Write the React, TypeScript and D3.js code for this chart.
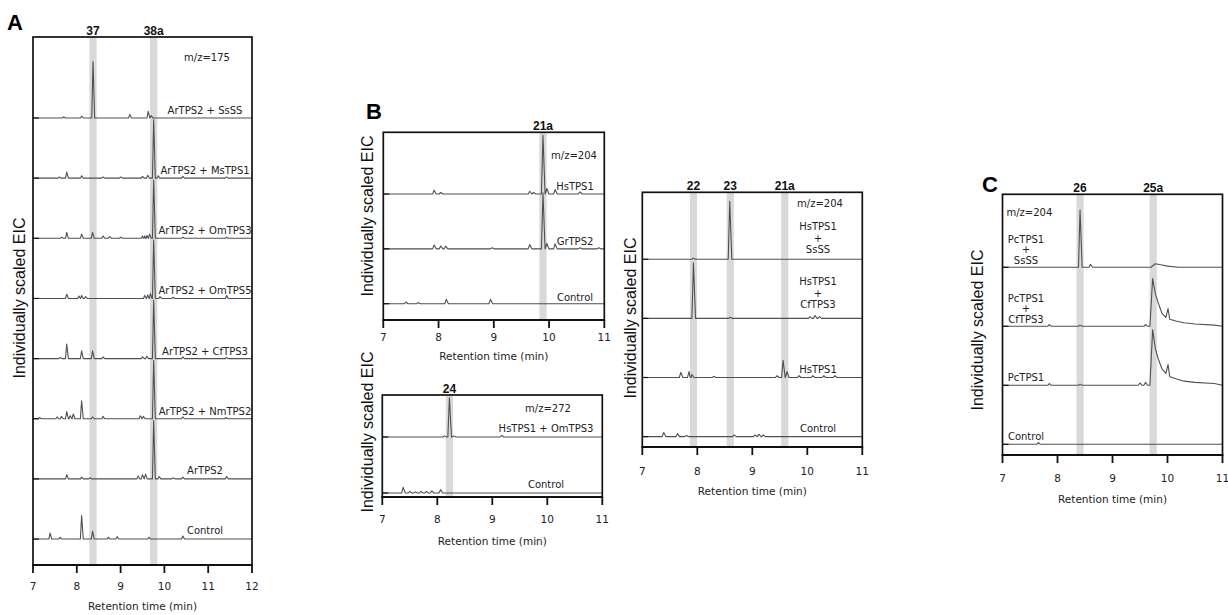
import React from "react";
import * as d3 from "d3";

type Pt = [number, number];

// ---------- panel A (m/z=175) ----------
const aTicks = [7, 8, 9, 10, 11, 12];
const aBandNames = ["37", "38a"];
const aBandTimes = [8.37, 9.755];
const aLabels = [
  "ArTPS2 + SsSS",
  "ArTPS2 + MsTPS1",
  "ArTPS2 + OmTPS3",
  "ArTPS2 + OmTPS5",
  "ArTPS2 + CfTPS3",
  "ArTPS2 + NmTPS2",
  "ArTPS2",
  "Control",
];
const aPeaks: Pt[][] = [
  [[7.7, 0.02], [8.11, 0.03], [8.37, 0.94], [9.21, 0.06], [9.63, 0.11], [9.7, 0.04]],
  [[7.6, 0.02], [7.77, 0.1], [8.11, 0.04], [8.6, 0.02], [9.0, 0.02], [9.5, 0.03], [9.62, 0.05], [9.755, 0.97], [9.86, 0.04], [10.42, 0.03], [11.42, 0.02]],
  [[7.65, 0.02], [7.77, 0.1], [8.11, 0.07], [8.36, 0.1], [8.6, 0.04], [8.75, 0.03], [9.0, 0.02], [9.5, 0.04], [9.55, 0.04], [9.6, 0.05], [9.66, 0.07], [9.755, 0.97], [10.42, 0.02], [11.42, 0.02]],
  [[7.77, 0.07], [8.05, 0.04], [8.11, 0.05], [8.2, 0.03], [9.55, 0.05], [9.62, 0.06], [9.68, 0.08], [9.755, 0.97], [9.9, 0.03], [10.2, 0.02], [11.42, 0.05]],
  [[7.62, 0.02], [7.77, 0.24], [8.11, 0.13], [8.36, 0.13], [8.6, 0.03], [9.5, 0.03], [9.6, 0.04], [9.755, 0.97], [10.42, 0.03], [11.42, 0.02]],
  [[7.15, 0.02], [7.55, 0.03], [7.65, 0.04], [7.77, 0.12], [7.85, 0.05], [7.92, 0.08], [8.11, 0.3], [8.36, 0.03], [8.6, 0.04], [9.45, 0.05], [9.52, 0.04], [9.755, 0.97], [10.42, 0.03], [11.4, 0.02]],
  [[7.77, 0.07], [8.11, 0.03], [8.3, 0.02], [9.4, 0.05], [9.5, 0.07], [9.57, 0.08], [9.755, 0.97], [9.88, 0.04], [10.2, 0.02], [10.42, 0.03], [11.42, 0.04]],
  [[7.39, 0.1], [7.62, 0.03], [8.11, 0.39], [8.36, 0.13], [8.72, 0.03], [8.92, 0.04], [9.65, 0.03], [10.42, 0.05]],
];

// ---------- panel B, upper left (m/z=204) ----------
const bTicks = [7, 8, 9, 10, 11];
const b1BandNames = ["21a"];
const b1BandTimes = [9.89];
const b1Labels = ["HsTPS1", "GrTPS2", "Control"];
const b1Peaks: Pt[][] = [
  [[7.92, 0.07], [8.04, 0.03], [9.65, 0.05], [9.72, 0.03], [9.89, 1.07], [9.96, 0.1], [10.11, 0.08], [10.56, 0.04]],
  [[7.92, 0.07], [8.04, 0.05], [8.13, 0.05], [8.97, 0.02], [9.65, 0.08], [9.89, 1.02], [9.96, 0.1], [10.11, 0.09], [10.56, 0.02], [10.9, 0.02]],
  [[7.41, 0.03], [7.63, 0.02], [8.14, 0.08], [8.94, 0.08]],
];

// ---------- panel B, lower left (m/z=272) ----------
const b2BandNames = ["24"];
const b2BandTimes = [8.22];
const b2Labels = ["HsTPS1 + OmTPS3", "Control"];
const b2Peaks: Pt[][] = [
  [[8.13, 0.02], [8.22, 0.7], [8.3, 0.02], [9.17, 0.03]],
  [[7.38, 0.1], [7.5, 0.03], [7.6, 0.02], [7.7, 0.03], [7.8, 0.03], [7.9, 0.04], [8.06, 0.06]],
];

// ---------- panel B, right (m/z=204) ----------
const b3BandNames = ["22", "23", "21a"];
const b3BandTimes = [7.93, 8.6, 9.59];
const b3Labels = ["HsTPS1\n+\nSsSS", "HsTPS1\n+\nCfTPS3", "HsTPS1", "Control"];
const b3Peaks: Pt[][] = [
  [[7.93, 0.02], [8.59, 0.98]],
  [[7.93, 0.94], [8.6, 0.02], [10.05, 0.03], [10.14, 0.05], [10.22, 0.03]],
  [[7.7, 0.085], [7.85, 0.1], [7.9, 0.05], [8.3, 0.02], [9.45, 0.03], [9.56, 0.29], [9.63, 0.1], [9.85, 0.03], [10.1, 0.03], [10.3, 0.03], [10.5, 0.03]],
  [[7.39, 0.07], [7.64, 0.05], [7.8, 0.02], [8.67, 0.03], [9.05, 0.03], [9.12, 0.04], [9.2, 0.03]],
];

// ---------- panel C (m/z=204) ----------
const cBandNames = ["26", "25a"];
const cBandTimes = [8.41, 9.74];
const cLabels = ["PcTPS1\n+\nSsSS", "PcTPS1\n+\nCfTPS3", "PcTPS1", "Control"];
const cPeaks: Pt[][] = [
  [[8.41, 0.97], [8.6, 0.05]],
  [[7.85, 0.03], [8.41, 0.02], [9.6, 0.03]],
  [[7.85, 0.03], [8.41, 0.02], [9.5, 0.04], [9.6, 0.05]],
  [[7.65, 0.03]],
];
const cProfiles: (Pt[] | null)[] = [
  [[9.7, 0], [9.78, 0.06], [9.9, 0.04], [10.0, 0.02], [10.2, 0]],
  [[9.68, 0], [9.73, 0.81], [9.78, 0.55], [9.83, 0.4], [9.9, 0.22], [9.97, 0.15], [10.01, 0.3], [10.04, 0.12], [10.15, 0.09], [10.3, 0.06], [10.5, 0.04], [10.85, 0.02], [11, 0.02]],
  [[9.68, 0], [9.73, 0.94], [9.78, 0.62], [9.83, 0.45], [9.9, 0.28], [9.97, 0.2], [10.01, 0.35], [10.04, 0.15], [10.15, 0.11], [10.3, 0.07], [10.5, 0.05], [10.85, 0.03], [11, 0.02]],
  null,
];

const SANS = "DejaVu Sans, sans-serif";
const ARIAL = "Liberation Sans, Arial, sans-serif";

interface Layout {
  left: number; right: number; top: number; bottom: number;
  base0: number; step: number;
  labelX: number; labelUp: number[]; lineGap: number;
  mz: string; mzX: number; mzY: number; mzAnchor: string;
  yLabelX: number; yLabelY: number;
  tickDy: number; xLabelDy: number;
  letter?: string; letterX?: number; letterY?: number;
}

function tracePoints(peaks: Pt[], profile: Pt[] | null, domain: number[]): Pt[] {
  const pts: Pt[] = [[domain[0], 0], [domain[1], 0]];
  peaks.forEach(([t, h]) => {
    pts.push([t - 0.028, 0], [t, h], [t + 0.038, 0]);
  });
  if (profile) profile.forEach((p) => pts.push(p));
  return pts.sort((a, b) => a[0] - b[0]);
}

function Panel(props: {
  cfg: Layout; ticks: number[]; bandNames: string[]; bandTimes: number[];
  labels: string[]; peaks: Pt[][]; profiles?: (Pt[] | null)[];
}) {
  const { cfg, ticks, bandNames, bandTimes, labels, peaks, profiles } = props;
  const domain = [ticks[0], ticks[ticks.length - 1]];
  const x = d3.scaleLinear().domain(domain).range([cfg.left, cfg.right]);
  const bw = 3.6;
  return (
    <g>
      {bandTimes.map((t, i) => (
        <rect key={"b" + i} x={x(t) - bw} y={cfg.top} width={bw * 2} height={cfg.bottom - cfg.top} fill="#d9d9d9" />
      ))}
      {peaks.map((pk, i) => {
        const base = cfg.base0 + i * cfg.step;
        const y = d3.scaleLinear().domain([0, 1]).range([base, base - cfg.step]);
        const line = d3.line<Pt>().x((d) => x(d[0])).y((d) => y(d[1]));
        const pts = tracePoints(pk, profiles ? profiles[i] : null, domain);
        return (
          <g key={"t" + i}>
            <path d={line(pts) || ""} fill="none" stroke="#505050" strokeWidth={1.1} strokeLinejoin="round" />
            <line x1={cfg.left} x2={cfg.left + 6} y1={base} y2={base} stroke="#111" strokeWidth={1.2} />
          </g>
        );
      })}
      {labels.map((lab, i) => {
        const base = cfg.base0 + i * cfg.step;
        const lines = lab.split("\n");
        const last = base - cfg.labelUp[i];
        return (
          <text key={"l" + i} fontFamily={SANS} fontSize={10} fill="#222" textAnchor="middle">
            {lines.map((s, j) => (
              <tspan key={j} x={cfg.labelX} y={last - (lines.length - 1 - j) * cfg.lineGap}>{s}</tspan>
            ))}
          </text>
        );
      })}
      <rect x={cfg.left} y={cfg.top} width={cfg.right - cfg.left} height={cfg.bottom - cfg.top} fill="none" stroke="#111" strokeWidth={1.7} />
      <line x1={cfg.left - 0.8} x2={cfg.right + 0.8} y1={cfg.bottom} y2={cfg.bottom} stroke="#111" strokeWidth={2} />
      {ticks.map((t) => (
        <g key={"k" + t}>
          <line x1={x(t)} x2={x(t)} y1={cfg.bottom} y2={cfg.bottom + 8} stroke="#111" strokeWidth={1.8} />
          <text x={x(t)} y={cfg.bottom + cfg.tickDy} fontFamily={SANS} fontSize={10.5} textAnchor="middle" dominantBaseline="middle" fill="#222">{t}</text>
        </g>
      ))}
      <text x={(cfg.left + cfg.right) / 2} y={cfg.bottom + cfg.xLabelDy} fontFamily={SANS} fontSize={10.5} textAnchor="middle" dominantBaseline="middle" fill="#222">Retention time (min)</text>
      <text transform={`translate(${cfg.yLabelX},${cfg.yLabelY}) rotate(-90)`} fontFamily={ARIAL} fontSize={16} textAnchor="middle" fill="#111">Individually scaled EIC</text>
      {bandNames.map((b, i) => (
        <text key={"n" + i} x={x(bandTimes[i])} y={cfg.top - 2} fontFamily={ARIAL} fontWeight="bold" fontSize={12} textAnchor="middle" fill="#111">{b}</text>
      ))}
      <text x={cfg.mzX} y={cfg.mzY} fontFamily={SANS} fontSize={10} textAnchor={cfg.mzAnchor as any} fill="#222">{cfg.mz}</text>
      {cfg.letter && (
        <text x={cfg.letterX} y={cfg.letterY} fontFamily={ARIAL} fontWeight="bold" fontSize={22} fill="#000">{cfg.letter}</text>
      )}
    </g>
  );
}

const layoutA: Layout = {
  left: 33, right: 252, top: 37, bottom: 565, base0: 118, step: 60.15,
  labelX: 205, labelUp: [4, 4, 4, 4, 4, 4, 5, 5], lineGap: 11,
  mz: "m/z=175", mzX: 207, mzY: 60.5, mzAnchor: "middle",
  yLabelX: 25, yLabelY: 298, tickDy: 22, xLabelDy: 42,
  letter: "A", letterX: 7, letterY: 29.5,
};
const layoutB1: Layout = {
  left: 383.3, right: 604.3, top: 132.3, bottom: 320, base0: 194, step: 54.85,
  labelX: 575, labelUp: [4, 4, 3], lineGap: 11,
  mz: "m/z=204", mzX: 574, mzY: 159, mzAnchor: "middle",
  yLabelX: 373, yLabelY: 216, tickDy: 17.5, xLabelDy: 37,
  letter: "B", letterX: 366, letterY: 118.5,
};
const layoutB2: Layout = {
  left: 382.3, right: 602.3, top: 395, bottom: 497, base0: 437, step: 56,
  labelX: 546, labelUp: [5, 5], lineGap: 11,
  mz: "m/z=272", mzX: 548, mzY: 412, mzAnchor: "middle",
  yLabelX: 373, yLabelY: 432, tickDy: 23, xLabelDy: 44.5,
};
const layoutB3: Layout = {
  left: 642.3, right: 862.3, top: 192.3, bottom: 447, base0: 259.3, step: 59.1,
  labelX: 818, labelUp: [6, 10, 5, 5], lineGap: 11.5,
  mz: "m/z=204", mzX: 820, mzY: 207, mzAnchor: "middle",
  yLabelX: 636, yLabelY: 318, tickDy: 24.7, xLabelDy: 44.7,
};
const layoutC: Layout = {
  left: 1002.5, right: 1222.5, top: 194.3, bottom: 455, base0: 267.3, step: 59,
  labelX: 1026, labelUp: [3.5, 3.5, 4.5, 4.5], lineGap: 10.5,
  mz: "m/z=204", mzX: 1006.5, mzY: 215.5, mzAnchor: "start",
  yLabelX: 983, yLabelY: 330, tickDy: 24, xLabelDy: 45,
  letter: "C", letterX: 982, letterY: 191.7,
};

export default function App() {
  return (
    <svg width={1228} height={615} style={{ position: "absolute", left: 0, top: 0, background: "#fff" }}>
      <rect width={1228} height={615} fill="#fff" />
      <Panel cfg={layoutA} ticks={aTicks} bandNames={aBandNames} bandTimes={aBandTimes} labels={aLabels} peaks={aPeaks} />
      <Panel cfg={layoutB1} ticks={bTicks} bandNames={b1BandNames} bandTimes={b1BandTimes} labels={b1Labels} peaks={b1Peaks} />
      <Panel cfg={layoutB2} ticks={bTicks} bandNames={b2BandNames} bandTimes={b2BandTimes} labels={b2Labels} peaks={b2Peaks} />
      <Panel cfg={layoutB3} ticks={bTicks} bandNames={b3BandNames} bandTimes={b3BandTimes} labels={b3Labels} peaks={b3Peaks} />
      <Panel cfg={layoutC} ticks={bTicks} bandNames={cBandNames} bandTimes={cBandTimes} labels={cLabels} peaks={cPeaks} profiles={cProfiles} />
    </svg>
  );
}
